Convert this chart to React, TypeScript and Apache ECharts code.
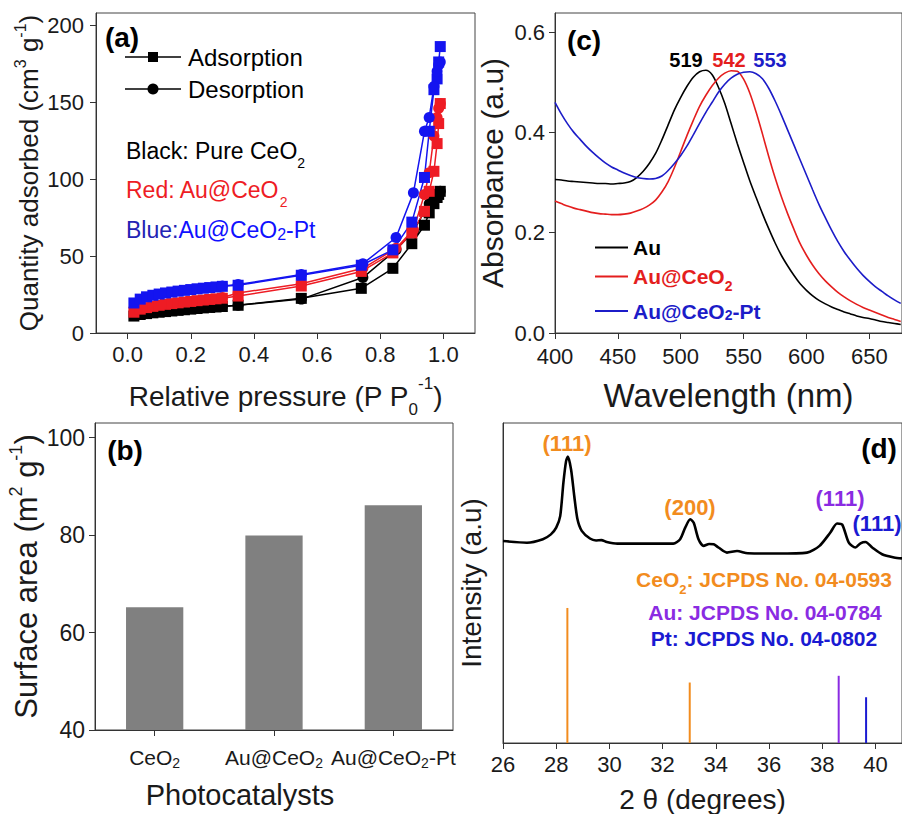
import React, { useEffect, useRef } from 'react';
import * as echarts from 'echarts';

const FONT = '"Liberation Sans", Arial, Helvetica, sans-serif';
const INK = '#1a1a1a';

// ---------- (a) N2 adsorption / desorption isotherms ----------
const pAds = [0.02, 0.04, 0.06, 0.08, 0.10, 0.12, 0.14, 0.16, 0.18, 0.20, 0.22, 0.24, 0.26, 0.28, 0.30, 0.35, 0.55, 0.74, 0.84, 0.90, 0.94, 0.955, 0.97, 0.98, 0.985, 0.99];
const adsCeO2 = [11, 12, 12.6, 13.1, 13.5, 13.9, 14.3, 14.7, 15.1, 15.5, 15.9, 16.3, 16.6, 16.9, 17.2, 18, 22.5, 29, 42, 58, 70, 78, 84, 88, 90, 92];
const adsAuCeO2 = [13.5, 15.5, 16.5, 17.3, 18, 18.6, 19.1, 19.6, 20.1, 20.5, 21, 21.4, 21.8, 22.2, 22.6, 24, 30.5, 40, 52, 65, 79, 92, 105, 123, 136, 149];
const adsAuCeO2Pt = [19.5, 22, 23.5, 24.5, 25.3, 26, 26.6, 27.2, 27.7, 28.2, 28.7, 29.1, 29.5, 29.9, 30.3, 31, 37.5, 44, 54, 72, 101, 131, 158, 165, 176, 186];
const pDes = [0.99, 0.985, 0.98, 0.97, 0.955, 0.94, 0.905, 0.85, 0.745, 0.55, 0.35, 0.30];
const desCeO2 = [92, 91, 90, 88, 84, 79, 66, 54, 36, 22, 18, 17.2];
const desAuCeO2 = [149, 146, 140, 128, 104, 90, 67, 55, 42, 32, 26, 23];
const desAuCeO2Pt = [176, 174, 170, 160, 140, 131, 91, 62, 45, 38, 31.5, 30.5];
const aXTicks = [0, 0.2, 0.4, 0.6, 0.8, 1.0];
const aYTicks = [0, 50, 100, 150, 200];

// ---------- (b) BET surface area ----------
const catalysts = ['CeO2', 'Au@CeO2', 'Au@CeO2-Pt'];
const surfaceArea = [65.2, 79.9, 86.1];
const bYTicks = [40, 60, 80, 100];

// ---------- (c) UV-vis absorbance ----------
const wavelength = [400, 405, 410, 415, 420, 425, 430, 435, 440, 445, 450, 455, 460, 465, 470, 475, 480, 485, 490, 495, 500, 505, 510, 515, 520, 525, 530, 535, 540, 545, 550, 555, 560, 565, 570, 575, 580, 585, 590, 595, 600, 605, 610, 615, 620, 625, 630, 635, 640, 645, 650, 655, 660, 665, 670, 675];
const absAu = [0.306, 0.305, 0.303, 0.302, 0.301, 0.300, 0.299, 0.298, 0.298, 0.297, 0.298, 0.299, 0.302, 0.310, 0.322, 0.338, 0.358, 0.385, 0.415, 0.445, 0.470, 0.492, 0.510, 0.521, 0.524, 0.515, 0.490, 0.458, 0.418, 0.378, 0.340, 0.303, 0.270, 0.238, 0.208, 0.180, 0.155, 0.134, 0.115, 0.098, 0.085, 0.074, 0.065, 0.058, 0.052, 0.047, 0.042, 0.038, 0.034, 0.031, 0.029, 0.026, 0.023, 0.021, 0.019, 0.017];
const absAuCeO2 = [0.263, 0.258, 0.253, 0.249, 0.246, 0.243, 0.240, 0.238, 0.237, 0.236, 0.236, 0.237, 0.239, 0.243, 0.248, 0.255, 0.265, 0.281, 0.302, 0.330, 0.362, 0.394, 0.424, 0.452, 0.474, 0.493, 0.508, 0.518, 0.523, 0.522, 0.506, 0.478, 0.440, 0.397, 0.352, 0.310, 0.272, 0.238, 0.207, 0.178, 0.155, 0.135, 0.118, 0.104, 0.092, 0.081, 0.072, 0.064, 0.057, 0.051, 0.046, 0.041, 0.036, 0.031, 0.027, 0.023];
const absAuCeO2Pt = [0.460, 0.437, 0.417, 0.400, 0.386, 0.372, 0.360, 0.349, 0.339, 0.331, 0.325, 0.319, 0.314, 0.310, 0.308, 0.307, 0.308, 0.313, 0.324, 0.338, 0.354, 0.373, 0.395, 0.418, 0.440, 0.460, 0.480, 0.496, 0.508, 0.516, 0.520, 0.521, 0.517, 0.507, 0.488, 0.463, 0.435, 0.405, 0.375, 0.345, 0.315, 0.285, 0.256, 0.230, 0.205, 0.182, 0.162, 0.145, 0.129, 0.115, 0.103, 0.092, 0.083, 0.074, 0.066, 0.059];
const cXTicks = [400, 450, 500, 550, 600, 650];
const cYTicks = [0, 0.2, 0.4, 0.6];
const peakLabels = ['519', '542', '553'];

// ---------- (d) XRD ----------
const twoTheta = [26.0, 26.9, 27.5, 27.8, 28.0, 28.15, 28.27, 28.37, 28.44, 28.56, 28.68, 28.8, 28.96, 29.27, 29.5, 29.7, 29.9, 30.3, 31.3, 32.4, 32.66, 32.85, 33.04, 33.17, 33.35, 33.54, 33.75, 33.92, 34.1, 34.42, 34.8, 35.2, 36.3, 37.43, 37.9, 38.3, 38.56, 38.75, 39.0, 39.25, 39.44, 39.63, 39.88, 40.25, 40.7, 41.0];
const intensity = [63.1, 62.6, 63.7, 65.2, 67.3, 70.9, 81.3, 88.0, 89.5, 85.4, 77.1, 69.9, 66.3, 63.9, 63.3, 63.4, 62.8, 62.3, 62.3, 62.3, 63.7, 67.3, 69.9, 68.8, 63.7, 61.6, 62.2, 62.1, 61.1, 59.5, 60.0, 59.3, 59.2, 59.5, 61.6, 65.7, 68.6, 68.3, 62.6, 61.1, 62.4, 62.8, 61.1, 59.0, 58.0, 57.7];
const refPos = [28.42, 33.02, 38.62, 39.65];
const refHeight = [42.2, 18.9, 21.0, 14.3];
const refPhase = ['CeO2', 'CeO2', 'Au', 'Pt'];
const dXTicks = [26, 28, 30, 32, 34, 36, 38, 40];

const ORANGE = '#f28c1e';
const PURPLE = '#8a2be2';
const DBLUE = '#1a1ad2';
const phaseColor: Record<string, string> = { CeO2: ORANGE, Au: PURPLE, Pt: DBLUE };

const RED_A = '#ee1c24';
const BLUE_A = '#1414f0';
const RED_C = '#e41e1e';
const BLUE_C = '#1c1cc8';

const baseAxis = (gridIndex: number) => ({
  gridIndex,
  axisLine: { show: true, onZero: false, lineStyle: { color: '#333', width: 1 } },
  splitLine: { show: false },
});

// rich-token helpers (offset in px: positive = down, via padding)
const lowTok = (fontSize: number, off: number, extra: any = {}) => ({ fontSize, verticalAlign: 'bottom', padding: [off * 2, 0, 0, 0], fontFamily: FONT, ...extra });
const highTok = (fontSize: number, off: number, extra: any = {}) => ({ fontSize, verticalAlign: 'top', padding: [0, 0, off * 2, 0], fontFamily: FONT, ...extra });

function txt(x: number, y: number, text: string, o: any = {}) {
  return {
    type: 'text',
    x,
    y,
    z: 100,
    style: {
      text,
      fill: o.fill ?? '#000',
      fontSize: o.size ?? 20,
      fontWeight: o.bold ? 'bold' : 'normal',
      fontFamily: FONT,
      align: o.align ?? 'center',
      verticalAlign: 'middle',
      rich: o.rich,
    },
  };
}

export default function App() {
  const ref = useRef<HTMLDivElement>(null);
  useEffect(() => {
    if (!ref.current) return;
    const chart = echarts.init(ref.current, undefined, { renderer: 'svg' });

    const tickLabel = { color: INK, fontSize: 22, fontFamily: FONT };

    const isoSeries = (name: string, xs: number[], ys: number[], color: string, symbol: string) => ({
      name,
      type: 'line',
      xAxisIndex: 0,
      yAxisIndex: 0,
      data: xs.map((x, i) => [x, ys[i]]),
      symbol,
      symbolSize: 11,
      itemStyle: { color },
      lineStyle: { color, width: 1.5 },
    });

    const uvSeries = (name: string, ys: number[], color: string) => ({
      name,
      type: 'line',
      xAxisIndex: 1,
      yAxisIndex: 1,
      data: wavelength.map((w, i) => [w, ys[i]]),
      symbol: 'none',
      smooth: 0.3,
      lineStyle: { color, width: 1.6 },
      itemStyle: { color },
    });

    const option: any = {
      animation: false,
      backgroundColor: '#fff',
      grid: [
        { left: 96, top: 13, width: 379, height: 320, show: true, borderColor: '#444', borderWidth: 1, backgroundColor: 'transparent' },
        { left: 555, top: 13, width: 348, height: 320, show: true, borderColor: '#444', borderWidth: 1, backgroundColor: 'transparent' },
        { left: 95, top: 423, width: 358, height: 307, show: true, borderColor: '#444', borderWidth: 1, backgroundColor: 'transparent' },
        { left: 503, top: 423, width: 400, height: 322, show: true, borderColor: '#444', borderWidth: 1, backgroundColor: 'transparent' },
      ],
      xAxis: [
        {
          ...baseAxis(0),
          type: 'value',
          min: -0.1,
          max: 1.1,
          axisTick: { show: true, length: 6, lineStyle: { color: '#333' }, customValues: aXTicks },
          axisLabel: { ...tickLabel, margin: 10, customValues: aXTicks, formatter: (v: number) => v.toFixed(1) },
          name: 'Relative pressure (P P{sub|0}{sup|-1})',
          nameLocation: 'middle',
          nameGap: 42,
          nameTextStyle: {
            color: INK, fontSize: 28, fontFamily: FONT,
            rich: {
              sub: lowTok(17, 13, { color: INK }),
              sup: highTok(17, 9, { color: INK }),
            },
          },
        },
        {
          ...baseAxis(1),
          type: 'value',
          min: 400,
          max: 676,
          axisTick: { show: true, length: 6, lineStyle: { color: '#333' }, customValues: cXTicks },
          axisLabel: { ...tickLabel, margin: 12, customValues: cXTicks },
          name: 'Wavelength (nm)',
          nameLocation: 'middle',
          nameGap: 46,
          nameTextStyle: { color: INK, fontSize: 33, fontFamily: FONT },
        },
        {
          ...baseAxis(2),
          type: 'category',
          data: catalysts,
          axisTick: { show: true, length: 6, alignWithLabel: true, lineStyle: { color: '#333' } },
          axisLabel: {
            ...tickLabel,
            fontSize: 21,
            interval: 0,
            margin: 14,
            formatter: (v: string) => v.replace('O2', 'O{sub|2}'),
            rich: { sub: lowTok(14, 6, { color: INK }) },
          },
          name: 'Photocatalysts',
          nameLocation: 'middle',
          nameGap: 50,
          nameTextStyle: { color: INK, fontSize: 29, fontFamily: FONT, padding: [0, 68, 0, 0] },
        },
        {
          ...baseAxis(3),
          type: 'value',
          min: 26,
          max: 41,
          axisTick: { show: true, length: 6, lineStyle: { color: '#333' }, customValues: dXTicks },
          axisLabel: { ...tickLabel, margin: 10, customValues: dXTicks },
          name: '2 θ (degrees)',
          nameLocation: 'middle',
          nameGap: 42,
          nameTextStyle: { color: INK, fontSize: 28, fontFamily: FONT },
        },
      ],
      yAxis: [
        {
          ...baseAxis(0),
          type: 'value',
          min: 0,
          max: 207.8,
          axisTick: { show: true, length: 6, lineStyle: { color: '#333' }, customValues: aYTicks },
          axisLabel: { ...tickLabel, margin: 12, customValues: aYTicks },
          name: 'Quantity adsorbed (cm{sup|3} g{sup|-1})',
          nameLocation: 'middle',
          nameGap: 50,
          nameTextStyle: {
            color: INK, fontSize: 26, fontFamily: FONT,
            rich: { sup: highTok(16, 9, { color: INK }) },
          },
        },
        {
          ...baseAxis(1),
          type: 'value',
          min: 0,
          max: 0.638,
          axisTick: { show: true, length: 6, lineStyle: { color: '#333' }, customValues: cYTicks },
          axisLabel: { ...tickLabel, margin: 10, customValues: cYTicks, formatter: (v: number) => v.toFixed(1) },
          name: 'Absorbance (a.u)',
          nameLocation: 'middle',
          nameGap: 48,
          nameTextStyle: { color: INK, fontSize: 30, fontFamily: FONT },
        },
        {
          ...baseAxis(2),
          type: 'value',
          min: 40,
          max: 103,
          axisTick: { show: true, length: 6, lineStyle: { color: '#333' }, customValues: bYTicks },
          axisLabel: { ...tickLabel, fontSize: 23, margin: 10, customValues: bYTicks },
          name: 'Surface area (m{sup|2} g{sup|-1})',
          nameLocation: 'middle',
          nameGap: 50,
          nameTextStyle: {
            color: INK, fontSize: 31, fontFamily: FONT,
            rich: { sup: highTok(18, 10, { color: INK }) },
          },
        },
        {
          ...baseAxis(3),
          type: 'value',
          min: 0,
          max: 100,
          axisTick: { show: false },
          axisLabel: { show: false },
          name: 'Intensity (a.u)',
          nameLocation: 'middle',
          nameGap: 18,
          nameTextStyle: { color: INK, fontSize: 28, fontFamily: FONT },
        },
      ],
      legend: {
        data: [
          { name: 'Au', textStyle: { color: '#000' } },
          { name: 'Au@CeO2', textStyle: { color: RED_C } },
          { name: 'Au@CeO2-Pt', textStyle: { color: BLUE_C } },
        ],
        orient: 'vertical',
        left: 590,
        top: 232,
        icon: 'rect',
        itemWidth: 33,
        itemHeight: 2,
        itemGap: 8,
        formatter: (n: string) => (n === 'Au@CeO2' ? 'Au@CeO{sub|2}' : n === 'Au@CeO2-Pt' ? 'Au@CeO{sub2|2}-Pt' : n),
        textStyle: {
          fontSize: 21,
          fontWeight: 'bold',
          fontFamily: FONT,
          rich: {
            sub: lowTok(14, 9, { fontWeight: 'bold' }),
            sub2: lowTok(14, 3, { fontWeight: 'bold' }),
          },
        },
      },
      series: [
        isoSeries('CeO2 adsorption', pAds, adsCeO2, '#000', 'rect'),
        isoSeries('CeO2 desorption', pDes, desCeO2, '#000', 'circle'),
        isoSeries('Au@CeO2 adsorption', pAds, adsAuCeO2, RED_A, 'rect'),
        isoSeries('Au@CeO2 desorption', pDes, desAuCeO2, RED_A, 'circle'),
        isoSeries('Au@CeO2-Pt adsorption', pAds, adsAuCeO2Pt, BLUE_A, 'rect'),
        isoSeries('Au@CeO2-Pt desorption', pDes, desAuCeO2Pt, BLUE_A, 'circle'),
        uvSeries('Au', absAu, '#000'),
        uvSeries('Au@CeO2', absAuCeO2, RED_C),
        uvSeries('Au@CeO2-Pt', absAuCeO2Pt, BLUE_C),
        {
          name: 'Surface area',
          type: 'bar',
          xAxisIndex: 2,
          yAxisIndex: 2,
          data: surfaceArea,
          barWidth: '48%',
          itemStyle: { color: '#808080' },
        },
        {
          name: 'XRD',
          type: 'line',
          xAxisIndex: 3,
          yAxisIndex: 3,
          data: twoTheta.map((t, i) => [t, intensity[i]]),
          symbol: 'none',
          smooth: 0.25,
          lineStyle: { color: '#000', width: 2.6 },
          itemStyle: { color: '#000' },
        },
        {
          name: 'JCPDS',
          type: 'bar',
          xAxisIndex: 3,
          yAxisIndex: 3,
          barWidth: 2,
          data: refPos.map((p, i) => ({ value: [p, refHeight[i]], itemStyle: { color: phaseColor[refPhase[i]] } })),
        },
      ],
      graphic: {
        elements: [
          // (a)
          txt(122, 37, '(a)', { size: 28, bold: true }),
          { type: 'line', shape: { x1: 125, y1: 57, x2: 181, y2: 57 }, style: { stroke: '#000', lineWidth: 1.5 }, z: 100 },
          { type: 'rect', shape: { x: 148, y: 52, width: 10, height: 10 }, style: { fill: '#000' }, z: 100 },
          txt(188, 57, 'Adsorption', { size: 24, align: 'left' }),
          { type: 'line', shape: { x1: 125, y1: 89, x2: 181, y2: 89 }, style: { stroke: '#000', lineWidth: 1.5 }, z: 100 },
          { type: 'circle', shape: { cx: 153, cy: 89, r: 5.5 }, style: { fill: '#000' }, z: 100 },
          txt(188, 89, 'Desorption', { size: 24, align: 'left' }),
          txt(126, 151, 'Black: Pure CeO{sub|2}', { size: 23, align: 'left', rich: { sub: lowTok(14, 12, { fill: '#000' }) } }),
          txt(126, 190, 'Red: Au@CeO{sub|2}', { size: 23, align: 'left', fill: RED_A, rich: { sub: lowTok(14, 12, { fill: RED_A }) } }),
          txt(126, 230, '{b|Blue:}{c|Au@CeO}{sub|2}{c|-Pt}', {
            size: 23,
            align: 'left',
            fill: BLUE_A,
            rich: {
              b: { fontSize: 23, fill: '#2323b4', fontFamily: FONT },
              c: { fontSize: 23, fill: '#1010ff', fontFamily: FONT },
              sub: lowTok(16, 4, { fill: '#1010ff' }),
            },
          }),
          // (c)
          txt(584, 40, '(c)', { size: 28, bold: true }),
          txt(686, 60, peakLabels[0], { size: 20, bold: true, fill: '#000' }),
          txt(729, 60, peakLabels[1], { size: 20, bold: true, fill: RED_C }),
          txt(770, 60, peakLabels[2], { size: 20, bold: true, fill: BLUE_C }),
          // (b)
          txt(125, 450, '(b)', { size: 28, bold: true }),
          // (d)
          txt(879, 448, '(d)', { size: 28, bold: true }),
          txt(567, 443, '(111)', { size: 22, bold: true, fill: ORANGE }),
          txt(690, 507, '(200)', { size: 22, bold: true, fill: ORANGE }),
          txt(840, 498, '(111)', { size: 22, bold: true, fill: PURPLE }),
          txt(877, 523, '(111)', { size: 22, bold: true, fill: DBLUE }),
          txt(764, 579, 'CeO{sub|2}: JCPDS No. 04-0593', { size: 21, bold: true, fill: ORANGE, rich: { sub: lowTok(13, 10, { fill: ORANGE, fontWeight: 'bold' }) } }),
          txt(765, 612, 'Au: JCPDS No. 04-0784', { size: 21, bold: true, fill: PURPLE }),
          txt(764, 638, 'Pt: JCPDS No. 04-0802', { size: 21, bold: true, fill: DBLUE }),
        ],
      },
    };

    chart.setOption(option);
    return () => chart.dispose();
  }, []);

  return <div ref={ref} style={{ position: 'fixed', left: 0, top: 0, width: 902, height: 814, background: '#fff' }} />;
}
